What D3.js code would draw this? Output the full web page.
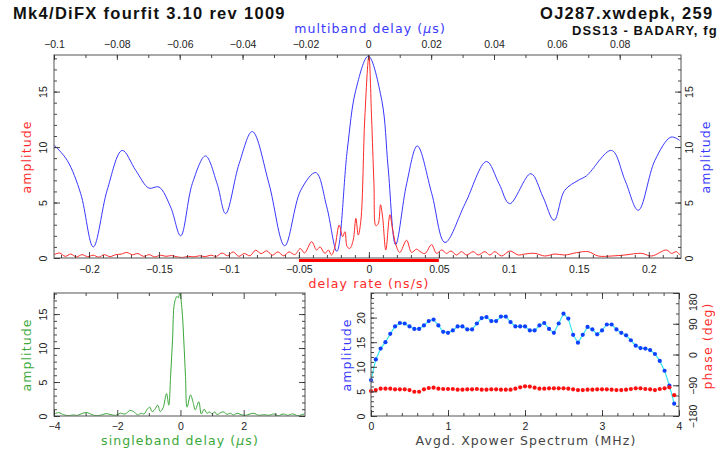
<!DOCTYPE html>
<html>
<head>
<meta charset="utf-8">
<script src="https://cdn.jsdelivr.net/npm/d3@7"></script>
<style>
  body { margin: 0; background: #fff; }
  .tick text { font-family: "Liberation Sans", Arial, sans-serif; font-size: 10.5px; fill: #222; }
  .lab { font-family: "DejaVu Sans", sans-serif; font-size: 12.5px; letter-spacing: 1.1px; }
  .title { font-family: "Liberation Sans", Arial, sans-serif; font-weight: bold; fill: #111; }
</style>
</head>
<body>
<svg id="chart" width="717" height="454"></svg>
<script>
// multiband delay (us) vs amplitude, blue curve
const mbdCurve = [
  [-0.1, 10.2], [-0.0958, 8.8], [-0.0915, 5.8], [-0.0875, 1.0], [-0.0831, 6.1], [-0.0783, 9.7],
  [-0.0740, 7.9], [-0.0698, 6.3], [-0.0666, 6.4], [-0.0629, 4.6], [-0.0597, 2.0], [-0.0560, 6.7],
  [-0.0518, 9.2], [-0.0481, 6.7], [-0.0454, 4.0], [-0.0411, 8.5], [-0.0369, 11.4], [-0.0316, 6.7],
  [-0.0266, 1.1], [-0.0215, 6.1], [-0.0167, 7.7], [-0.0132, 4.6], [-0.0100, 0.6], [-0.0067, 9.7],
  [-0.0040, 15.1], [0, 18.2], [0.0043, 14.2], [0.0063, 8.2], [0.0087, 1.2], [0.0122, 6.7],
  [0.0156, 10.1], [0.0202, 5.8], [0.0244, 1.4], [0.0308, 4.9], [0.0376, 8.7], [0.0416, 6.7],
  [0.0450, 4.9], [0.0517, 7.6], [0.0556, 5.5], [0.0591, 3.4], [0.0625, 6.1], [0.0668, 7.0],
  [0.0694, 7.4], [0.0774, 9.7], [0.0817, 7.0], [0.0859, 4.3], [0.0912, 8.8], [0.0963, 10.9],
  [0.0991, 10.6]
];

// delay rate (ns/s) vs amplitude, red curve
const rateCurve = [
  [-0.225, 0.30], [-0.221, 0.45], [-0.217, 0.15], [-0.213, 0.35], [-0.209, 0.10], [-0.205, 0.30],
  [-0.201, 0.12], [-0.197, 0.25], [-0.193, 0.08], [-0.189, 0.30], [-0.185, 0.12], [-0.181, 0.30],
  [-0.177, 0.35], [-0.173, 0.50], [-0.169, 0.30], [-0.165, 0.40], [-0.161, 0.15], [-0.157, 0.30],
  [-0.153, 0.10], [-0.149, 0.25], [-0.145, 0.15], [-0.141, 0.22], [-0.137, 0.10], [-0.133, 0.05],
  [-0.129, 0.15], [-0.125, 0.10], [-0.121, 0.20], [-0.117, 0.12], [-0.113, 0.25], [-0.109, 0.15],
  [-0.105, 0.45], [-0.101, 0.20], [-0.097, 0.55], [-0.093, 0.15], [-0.089, 0.40], [-0.085, 0.20],
  [-0.081, 0.70], [-0.077, 0.40], [-0.073, 0.65], [-0.069, 0.25], [-0.065, 0.55], [-0.061, 0.20],
  [-0.057, 0.55], [-0.053, 0.30], [-0.049, 0.85], [-0.046, 0.45], [-0.0409, 1.47], [-0.0374, 0.72],
  [-0.035, 1.0], [-0.0314, 0.42], [-0.029, 0.72], [-0.0267, 0.27], [-0.0243, 1.0], [-0.0212, 2.97],
  [-0.0188, 1.92], [-0.0171, 2.37], [-0.0155, 1.0], [-0.0136, 0.87], [-0.0112, 1.62], [-0.0093, 3.57],
  [-0.0076, 2.07], [-0.0057, 3.42], [-0.0029, 12.7], [0, 18.2], [0.0019, 12.7], [0.0036, 6.7],
  [0.005, 2.9], [0.0067, 3.1], [0.0083, 4.8], [0.0098, 3.7], [0.0121, 0.72], [0.015, 3.9],
  [0.0169, 2.6], [0.0193, 1.2], [0.0221, 0.5], [0.0269, 1.6], [0.0305, 0.5], [0.034, 0.8],
  [0.0364, 0.6], [0.040, 0.4], [0.0448, 1.2], [0.0483, 0.42], [0.052, 0.72], [0.0555, 0.42],
  [0.0586, 0.63], [0.0626, 0.27], [0.0662, 0.57], [0.0698, 0.27], [0.0745, 0.57], [0.0781, 0.27],
  [0.0829, 0.57], [0.0864, 0.27], [0.09, 0.57], [0.0948, 0.18], [0.1007, 0.63], [0.1067, 0.27],
  [0.1114, 0.36], [0.1186, 0.42], [0.1257, 0.18], [0.1329, 0.36], [0.14, 0.27], [0.1484, 0.48],
  [0.1567, 0.57], [0.1638, 0.18], [0.1733, 0.18], [0.1829, 0.27], [0.1948, 0.42], [0.2019, 0.18],
  [0.2126, 0.72], [0.2162, 0.42], [0.2198, 0.57], [0.2221, 0.27]
];
const rateWindow = [-0.05, 0.05];

// singleband delay (us) vs amplitude, green curve
const sbdCurve = [
  [-4.0, 0.3], [-3.85, 0.5], [-3.7, 0.2], [-3.55, 0.05], [-3.4, 0.15], [-3.25, 0.1], [-3.1, 0.4],
  [-2.95, 0.5], [-2.8, 0.2], [-2.65, 0.05], [-2.5, 0.15], [-2.35, 0.35], [-2.2, 0.2], [-2.05, 0.1],
  [-1.9, 0.4], [-1.75, 0.3], [-1.6, 0.8], [-1.48, 0.65], [-1.35, 0.15], [-1.25, 0.4], [-1.15, 0.3],
  [-1.05, 1.0], [-0.97, 1.3], [-0.9, 0.65], [-0.82, 0.9], [-0.72, 1.6], [-0.64, 0.65], [-0.55, 1.2],
  [-0.44, 3.3], [-0.37, 1.6], [-0.31, 6.0], [-0.25, 11.2], [-0.19, 16.6], [-0.11, 17.6], [-0.07, 17.4],
  [-0.02, 18.1], [0.05, 15.6], [0.105, 11.2], [0.16, 5.8], [0.21, 1.3], [0.32, 3.1], [0.40, 2.0],
  [0.47, 0.9], [0.58, 2.1], [0.66, 0.3], [0.75, 1.0], [0.84, 0.4], [0.92, 0.6], [1.0, 0.3],
  [1.08, 0.6], [1.16, 0.2], [1.27, 0.5], [1.37, 0.6], [1.47, 0.25], [1.58, 0.4], [1.68, 0.15],
  [1.79, 0.4], [1.92, 0.2], [2.06, 0.1], [2.2, 0.3], [2.32, 0.4], [2.48, 0.1], [2.64, 0.2],
  [2.8, 0.1], [2.95, 0.3], [3.1, 0.05], [3.25, 0.3], [3.4, 0.1], [3.55, 0.3], [3.7, 0.05],
  [3.85, 0.2], [3.94, 0.35]
];

// cross-power spectrum, 64 channels
const chanWidth = 0.0625; // MHz
const specAmp = [
  7.3, 11.5, 13.7, 15.0, 16.7, 18.2, 18.9, 18.8, 18.2, 17.7, 17.7, 18.4, 19.3, 19.6, 18.4, 17.1,
  16.9, 17.4, 18.2, 18.2, 17.6, 17.6, 18.8, 19.9, 20.1, 19.3, 19.3, 20.2, 20.2, 19.1, 18.2, 18.2,
  18.2, 17.4, 17.4, 18.4, 18.9, 17.7, 16.9, 18.8, 20.8, 19.8, 16.5, 14.9, 16.5, 18.1, 17.6, 16.6,
  17.4, 18.6, 18.6, 17.6, 16.9, 16.4, 15.4, 14.3, 13.8, 13.7, 13.4, 12.6, 11.2, 9.2, 6.2, 2.5
];
const specPhase = [
  -107, -104, -100, -100, -100, -102, -102, -102, -104, -109, -109, -102, -98, -97, -100, -101,
  -101, -101, -103, -103, -102, -102, -101, -103, -103, -102, -102, -103, -103, -103, -100, -96,
  -93, -94, -97, -100, -100, -99, -99, -99, -99, -100, -102, -104, -104, -103, -103, -102,
  -102, -102, -103, -104, -104, -103, -101, -99, -99, -101, -102, -104, -101, -99, -96, -119
];

// tick labels
const rateTicks = [-0.2, -0.15, -0.1, -0.05, 0, 0.05, 0.1, 0.15, 0.2];
const mbdTicks = [-0.1, -0.08, -0.06, -0.04, -0.02, 0, 0.02, 0.04, 0.06, 0.08];
const ampTicks = [0, 5, 10, 15];
const sbdTicks = [-4, -2, 0, 2];
const freqTicks = [0, 1, 2, 3, 4];
const specAmpTicks = [0, 5, 10, 15, 20];
const phaseTicks = [-180, -90, 0, 90, 180];

const RED = "#ff2a2a", BLUE = "#3838ff", GREEN = "#3aa83a";
const svg = d3.select("#chart");
const fmt = d3.format("~g");

function axis(g, scale, orient, pos, values, len, labelled) {
  const gen = { bottom: d3.axisBottom, top: d3.axisTop, left: d3.axisLeft, right: d3.axisRight }[orient](scale)
    .tickValues(values).tickSizeInner(-len).tickSizeOuter(0)
    .tickFormat(labelled ? fmt : "");
  const horiz = orient === "bottom" || orient === "top";
  const a = g.append("g")
    .attr("transform", horiz ? `translate(0,${pos})` : `translate(${pos},0)`)
    .call(gen);
  a.select(".domain").remove();
  a.selectAll("line").attr("stroke", "#333").attr("stroke-width", 0.9);
  return a;
}

// horizontal labels: baseline offset from axis line
function hLabels(a, off) {
  a.selectAll("text").attr("y", off).attr("dy", 0).attr("text-anchor", "middle");
}
// rotated labels: baseline x offset from axis line
function vLabels(a, off) {
  a.selectAll("text").attr("x", null).attr("dy", 0).attr("text-anchor", "middle")
    .attr("transform", `translate(${off},0) rotate(-90)`);
}

function frame(g, x0, y0, x1, y1) {
  g.append("rect").attr("x", x0).attr("y", y0).attr("width", x1 - x0).attr("height", y1 - y0)
    .attr("fill", "none").attr("stroke", "#707070").attr("stroke-width", 1.2);
}

function vText(x, y, txt, color) {
  return svg.append("text").attr("class", "lab")
    .attr("transform", `translate(${x},${y}) rotate(-90)`)
    .attr("text-anchor", "middle").attr("fill", color).text(txt);
}

function muLabel(x, y, before, color) {
  const t = svg.append("text").attr("class", "lab").attr("x", x).attr("y", y)
    .attr("text-anchor", "middle").attr("fill", color);
  t.append("tspan").text(before + " (");
  t.append("tspan").attr("font-style", "italic").text("\u03bc");
  t.append("tspan").text("s)");
}

// ---- titles ----
svg.append("text").attr("class", "title").attr("x", 13).attr("y", 19)
  .style("font-size", "16.5px").style("letter-spacing", "1.3px")
  .text("Mk4/DiFX fourfit 3.10 rev 1009");
svg.append("text").attr("class", "title").attr("x", 540).attr("y", 19)
  .style("font-size", "16.5px").style("letter-spacing", "1.3px")
  .text("OJ287.xwdepk, 259");
svg.append("text").attr("class", "title").attr("x", 572).attr("y", 35)
  .style("font-size", "13px").style("letter-spacing", "1.1px")
  .text("DSS13 - BADARY, fg");

// ---- top panel: delay rate + multiband delay ----
const P1 = { x0: 54, x1: 681, y0: 55, y1: 258 };
const xRate = d3.scaleLinear().domain([-0.225, 0.223]).range([P1.x0, P1.x1]);
const xMbd = d3.scaleLinear().domain([-0.1, 0.0995]).range([P1.x0, P1.x1]);
const y1 = d3.scaleLinear().domain([0, 18.3]).range([P1.y1, P1.y0]);

const g1 = svg.append("g");
g1.append("clipPath").attr("id", "clip1").append("rect")
  .attr("x", P1.x0).attr("y", P1.y0).attr("width", P1.x1 - P1.x0).attr("height", P1.y1 - P1.y0);

g1.append("path").datum(mbdCurve)
  .attr("clip-path", "url(#clip1)")
  .attr("fill", "none").attr("stroke", BLUE).attr("stroke-width", 1)
  .attr("d", d3.line().x(d => xMbd(d[0])).y(d => y1(d[1])).curve(d3.curveCatmullRom.alpha(0.5)));

g1.append("path").datum(rateCurve)
  .attr("clip-path", "url(#clip1)")
  .attr("fill", "none").attr("stroke", RED).attr("stroke-width", 1)
  .attr("d", d3.line().x(d => xRate(d[0])).y(d => y1(d[1])).curve(d3.curveCatmullRom.alpha(0.5)));

frame(g1, P1.x0, P1.y0, P1.x1, P1.y1);
axis(g1, xRate, "bottom", P1.y1, d3.range(-22, 23).map(i => i / 100), 3, false);
hLabels(axis(g1, xRate, "bottom", P1.y1, rateTicks, 6, true), 15);
axis(g1, xMbd, "top", P1.y0, d3.range(-10, 10).map(i => i / 100), 3, false);
hLabels(axis(g1, xMbd, "top", P1.y0, mbdTicks, 5, true), -7);
axis(g1, y1, "left", P1.x0, d3.range(0, 19), 3, false);
vLabels(axis(g1, y1, "left", P1.x0, ampTicks, 6, true), -7);
axis(g1, y1, "right", P1.x1, d3.range(0, 19), 3, false);
vLabels(axis(g1, y1, "right", P1.x1, ampTicks, 6, true), 12);

g1.append("rect").attr("x", xRate(rateWindow[0])).attr("y", 259)
  .attr("width", xRate(rateWindow[1]) - xRate(rateWindow[0])).attr("height", 3)
  .attr("fill", "#ff0000");

muLabel(370, 33, "multiband delay", BLUE);
svg.append("text").attr("class", "lab").attr("x", 369).attr("y", 288)
  .attr("text-anchor", "middle").attr("fill", RED).text("delay rate (ns/s)");
vText(31, 157, "amplitude", RED);
vText(710, 157, "amplitude", BLUE);

// ---- bottom-left: singleband delay ----
const P2 = { x0: 54, x1: 305, y0: 293, y1: 416 };
const xSbd = d3.scaleLinear().domain([-4, 3.94]).range([P2.x0, P2.x1]);
const y2 = d3.scaleLinear().domain([0, 18.1]).range([P2.y1, P2.y0]);
const g2 = svg.append("g");
g2.append("clipPath").attr("id", "clip2").append("rect")
  .attr("x", P2.x0).attr("y", P2.y0).attr("width", P2.x1 - P2.x0).attr("height", P2.y1 - P2.y0);
g2.append("path").datum(sbdCurve)
  .attr("clip-path", "url(#clip2)")
  .attr("fill", "none").attr("stroke", GREEN).attr("stroke-width", 1)
  .attr("d", d3.line().x(d => xSbd(d[0])).y(d => y2(d[1])).curve(d3.curveCatmullRom.alpha(0.5)));
frame(g2, P2.x0, P2.y0, P2.x1, P2.y1);
axis(g2, xSbd, "bottom", P2.y1, [-3, -1, 1, 3], 3, false);
hLabels(axis(g2, xSbd, "bottom", P2.y1, sbdTicks, 6, true), 14);
axis(g2, xSbd, "top", P2.y0, [-3, -1, 1, 3], 3, false);
axis(g2, xSbd, "top", P2.y0, sbdTicks, 6, false);
axis(g2, y2, "left", P2.x0, d3.range(0, 19), 3, false);
vLabels(axis(g2, y2, "left", P2.x0, ampTicks, 6, true), -7);
axis(g2, y2, "right", P2.x1, d3.range(0, 19), 3, false);
axis(g2, y2, "right", P2.x1, ampTicks, 6, false);
muLabel(180, 445, "singleband delay", GREEN);
vText(31, 355, "amplitude", GREEN);

// ---- bottom-right: cross power spectrum ----
const P3 = { x0: 371, x1: 679, y0: 293, y1: 416 };
const xFreq = d3.scaleLinear().domain([0, 4]).range([P3.x0, P3.x1]);
const y3 = d3.scaleLinear().domain([0, 25]).range([P3.y1, P3.y0]);
const yPh = d3.scaleLinear().domain([-180, 180]).range([P3.y1, P3.y0]);
const g3 = svg.append("g");
const spec = specAmp.map((a, i) => ({ f: i * chanWidth, a, p: specPhase[i] }));

g3.append("path").datum(spec)
  .attr("fill", "none").attr("stroke", "#38e8f0").attr("stroke-width", 1.2)
  .attr("d", d3.line().x(d => xFreq(d.f)).y(d => y3(d.a)));
g3.selectAll(".amp").data(spec).enter().append("circle").attr("class", "amp")
  .attr("cx", d => xFreq(d.f)).attr("cy", d => y3(d.a))
  .attr("r", 2.1).attr("fill", "#1040ff");
g3.selectAll(".ph").data(spec).enter().append("circle").attr("class", "ph")
  .attr("cx", d => xFreq(d.f)).attr("cy", d => yPh(d.p))
  .attr("r", 2.1).attr("fill", "#ff1010");

frame(g3, P3.x0, P3.y0, P3.x1, P3.y1);
axis(g3, xFreq, "bottom", P3.y1, d3.range(0, 21).map(i => i / 5), 3, false);
hLabels(axis(g3, xFreq, "bottom", P3.y1, freqTicks, 6, true), 14);
axis(g3, xFreq, "top", P3.y0, d3.range(0, 21).map(i => i / 5), 3, false);
axis(g3, xFreq, "top", P3.y0, freqTicks, 6, false);
axis(g3, y3, "left", P3.x0, d3.range(0, 26), 3, false);
vLabels(axis(g3, y3, "left", P3.x0, specAmpTicks, 6, true), -6);
axis(g3, yPh, "right", P3.x1, d3.range(-180, 181, 30), 3, false);
const phAx = axis(g3, yPh, "right", P3.x1, phaseTicks, 6, true);
vLabels(phAx, 18);
phAx.selectAll("text").filter(d => d === 180).attr("text-anchor", "end");

svg.append("text").attr("class", "lab").attr("x", 526).attr("y", 445)
  .attr("text-anchor", "middle").attr("fill", "#444").text("Avgd. Xpower Spectrum (MHz)");
vText(351, 355, "amplitude", BLUE);
vText(712, 346, "phase (deg)", RED);
</script>
</body>
</html>
